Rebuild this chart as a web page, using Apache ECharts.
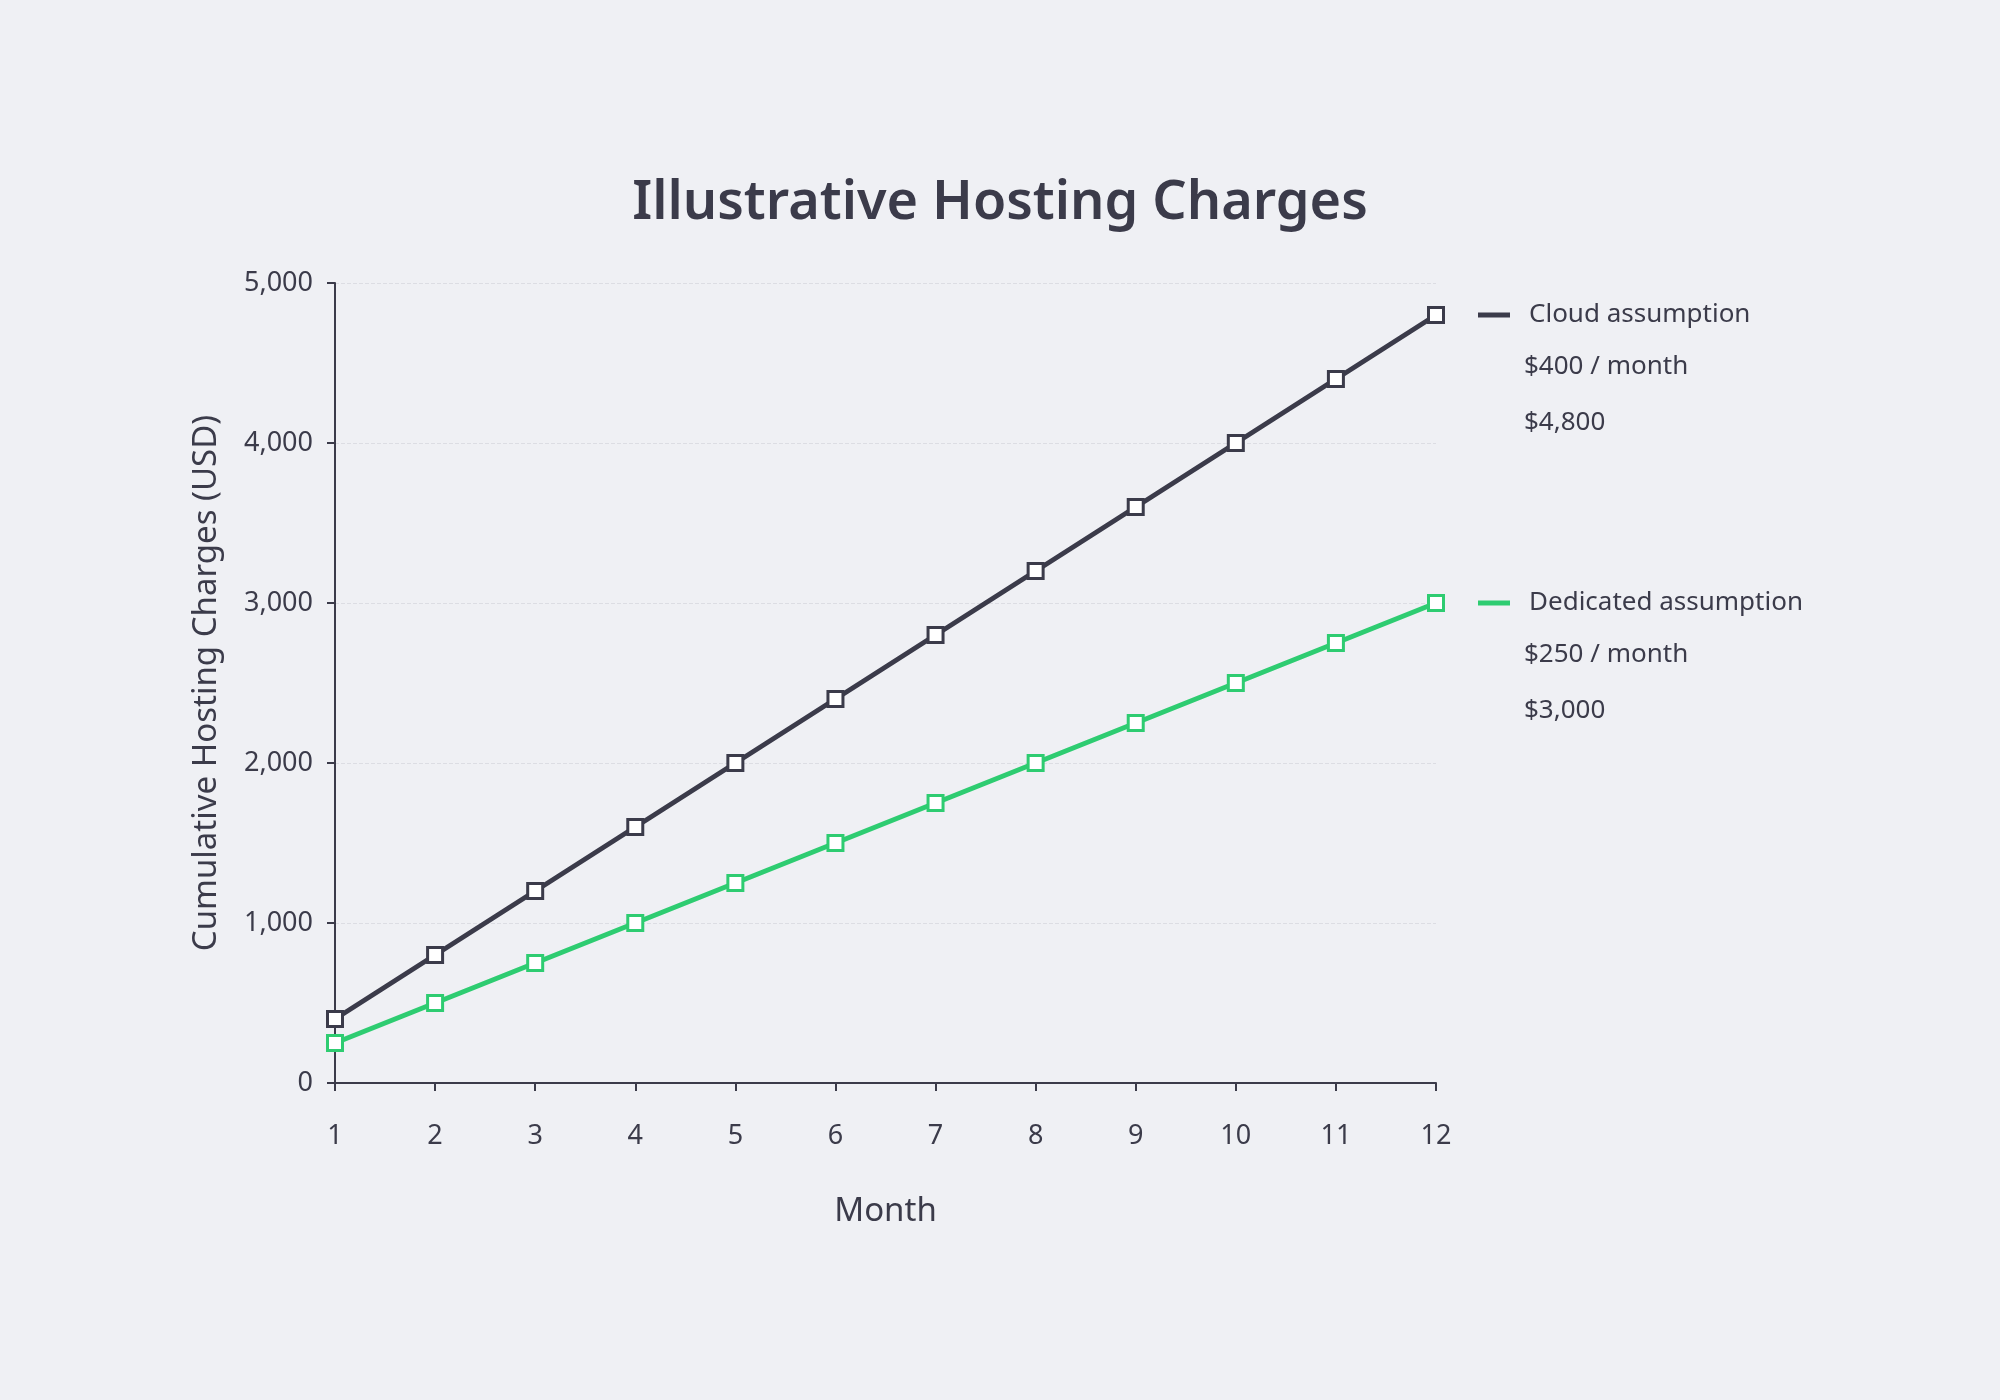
<!DOCTYPE html>
<html><head><meta charset="utf-8">
<script src="https://cdn.jsdelivr.net/npm/echarts@6/dist/echarts.min.js"></script>
<style>html,body{margin:0;background:#eff0f4}#c{width:2000px;height:1400px}</style>
</head><body><div id="c"></div>
<script>
const months = ['1','2','3','4','5','6','7','8','9','10','11','12'];
const cloud = [400,800,1200,1600,2000,2400,2800,3200,3600,4000,4400,4800];
const dedicated = [250,500,750,1000,1250,1500,1750,2000,2250,2500,2750,3000];
const cloudNotes = ['$400 / month','$4,800'];
const dedNotes = ['$250 / month','$3,000'];
const dark = '#3b3b4a', green = '#2ecc71';
const F = 'Noto Sans';
const chart = echarts.init(document.getElementById('c'));
function notes(arr, y0){return arr.map((t,i)=>({type:'text',left:1524,top:y0+i*56,style:{text:t,font:'26px "Noto Sans"',fill:dark}}));}
function leg(name,col,top){return {data:[{name:name,itemStyle:{color:col,borderWidth:0}}],left:1473,top:top,itemWidth:32,itemHeight:5,icon:'rect',
  textStyle:{fontFamily:F,fontSize:26,color:dark,padding:[0,0,0,14]}};}
chart.setOption({
  backgroundColor:'#eff0f4',
  title:{text:'Illustrative Hosting Charges',left:'center',top:172,textStyle:{fontFamily:F,fontSize:54,fontWeight:600,color:dark}},
  grid:{left:335,right:564,top:283,bottom:317},
  legend:[leg('Cloud assumption',dark,297),leg('Dedicated assumption',green,585)],
  graphic:[...notes(cloudNotes,354),...notes(dedNotes,642)],
  xAxis:{type:'category',data:months,boundaryGap:false,name:'Month',nameLocation:'middle',nameGap:112,
    nameTextStyle:{fontFamily:F,fontSize:33,color:dark},
    axisLine:{lineStyle:{color:dark,width:2}},axisTick:{alignWithLabel:true,length:8,lineStyle:{color:dark,width:2}},
    axisLabel:{fontFamily:F,fontSize:27,color:dark,margin:40}},
  yAxis:{type:'value',min:0,max:5000,interval:1000,name:'Cumulative Hosting Charges (USD)',nameLocation:'middle',nameGap:112,
    nameTextStyle:{fontFamily:F,fontSize:33,color:dark},
    axisLine:{show:true,lineStyle:{color:dark,width:2}},axisTick:{show:true,length:8,lineStyle:{color:dark,width:2}},
    axisLabel:{fontFamily:F,fontSize:27,color:dark,margin:22,formatter:v=>v.toLocaleString('en-US')},
    splitLine:{lineStyle:{color:'#dcdde3',type:'dashed',width:1}}},
  series:[
    {name:'Cloud assumption',type:'line',data:cloud,symbol:'rect',symbolSize:15,color:dark,
     lineStyle:{width:5,color:dark},itemStyle:{color:'#ffffff',borderColor:dark,borderWidth:3}},
    {name:'Dedicated assumption',type:'line',data:dedicated,symbol:'rect',symbolSize:15,color:green,
     lineStyle:{width:5,color:green},itemStyle:{color:'#ffffff',borderColor:green,borderWidth:3}}
  ]
});
</script></body></html>
